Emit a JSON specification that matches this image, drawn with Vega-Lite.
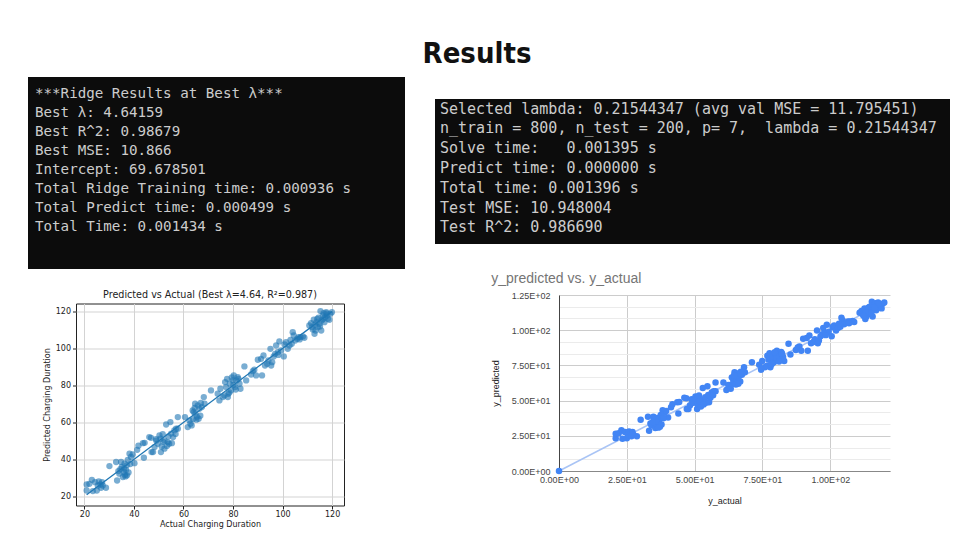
{
  "$schema": "https://vega.github.io/schema/vega-lite/v6.json",
  "background": "white",
  "padding": {"left": 28, "top": 40, "right": 7, "bottom": 4},
  "title": {"text": "Results", "font": "Liberation Sans Narrow, DejaVu Sans Condensed, sans-serif", "fontSize": 29, "fontWeight": "bold", "color": "#111111", "anchor": "middle", "dx": -12, "offset": 8, "frame": "bounds"},
  "config": {"view": {"stroke": null}},
  "datasets": {
    "box1": [
      {"line": 1, "text": "***Ridge Results at Best λ***"},
      {"line": 2, "text": "Best λ: 4.64159"},
      {"line": 3, "text": "Best R^2: 0.98679"},
      {"line": 4, "text": "Best MSE: 10.866"},
      {"line": 5, "text": "Intercept: 69.678501"},
      {"line": 6, "text": "Total Ridge Training time: 0.000936 s"},
      {"line": 7, "text": "Total Predict time: 0.000499 s"},
      {"line": 8, "text": "Total Time: 0.001434 s"}
    ],
    "box2": [
      {"line": 1, "text": "Selected lambda: 0.21544347 (avg val MSE = 11.795451)"},
      {"line": 2, "text": "n_train = 800, n_test = 200, p= 7, \u00a0lambda = 0.21544347"},
      {"line": 3, "text": "Solve time: \u00a0 0.001395 s"},
      {"line": 4, "text": "Predict time: 0.000000 s"},
      {"line": 5, "text": "Total time: 0.001396 s"},
      {"line": 6, "text": "Test MSE: 10.948004"},
      {"line": 7, "text": "Test R^2: 0.986690"}
    ],
    "pts": [
      {"actual": 20.9, "predicted": 23.2}, {"actual": 20.9, "predicted": 26.5}, {"actual": 22.0, "predicted": 26.8}, {"actual": 23.0, "predicted": 29.0},
      {"actual": 23.4, "predicted": 22.9}, {"actual": 24.3, "predicted": 27.7}, {"actual": 25.0, "predicted": 23.2}, {"actual": 25.4, "predicted": 25.9},
      {"actual": 25.8, "predicted": 28.1}, {"actual": 26.5, "predicted": 26.5}, {"actual": 26.7, "predicted": 24.7}, {"actual": 27.1, "predicted": 27.7},
      {"actual": 27.4, "predicted": 25.9}, {"actual": 28.7, "predicted": 24.7}, {"actual": 30.1, "predicted": 36.4},
      {"actual": 32.8, "predicted": 38.6}, {"actual": 33.2, "predicted": 28.6}, {"actual": 33.7, "predicted": 33.7}, {"actual": 34.1, "predicted": 32.3},
      {"actual": 34.8, "predicted": 38.6}, {"actual": 35.1, "predicted": 35.9}, {"actual": 35.5, "predicted": 30.5}, {"actual": 35.9, "predicted": 33.2},
      {"actual": 36.2, "predicted": 37.7}, {"actual": 36.4, "predicted": 31.7}, {"actual": 36.8, "predicted": 34.4}, {"actual": 37.1, "predicted": 36.8},
      {"actual": 37.2, "predicted": 31.4}, {"actual": 37.5, "predicted": 39.8}, {"actual": 38.2, "predicted": 43.1}, {"actual": 38.8, "predicted": 41.3},
      {"actual": 39.5, "predicted": 42.7}, {"actual": 40.2, "predicted": 38.0}, {"actual": 41.3, "predicted": 45.2}, {"actual": 41.8, "predicted": 47.4},
      {"actual": 43.6, "predicted": 48.8}, {"actual": 44.3, "predicted": 49.0}, {"actual": 44.0, "predicted": 40.9},
      {"actual": 36.0, "predicted": 35.0}, {"actual": 37.8, "predicted": 33.0}, {"actual": 36.6, "predicted": 30.8}, {"actual": 34.5, "predicted": 34.8},
      {"actual": 38.5, "predicted": 37.5},
      {"actual": 46.2, "predicted": 52.1}, {"actual": 46.9, "predicted": 51.7}, {"actual": 47.1, "predicted": 44.0}, {"actual": 47.7, "predicted": 44.0},
      {"actual": 48.3, "predicted": 46.7}, {"actual": 48.9, "predicted": 51.0}, {"actual": 49.6, "predicted": 48.5}, {"actual": 50.3, "predicted": 53.0},
      {"actual": 50.7, "predicted": 51.2}, {"actual": 50.9, "predicted": 44.0}, {"actual": 51.2, "predicted": 47.0}, {"actual": 51.6, "predicted": 53.6},
      {"actual": 52.3, "predicted": 50.3}, {"actual": 52.3, "predicted": 45.8}, {"actual": 53.0, "predicted": 58.9}, {"actual": 53.6, "predicted": 49.4},
      {"actual": 53.9, "predicted": 52.4}, {"actual": 54.2, "predicted": 48.5}, {"actual": 54.7, "predicted": 60.2}, {"actual": 55.3, "predicted": 48.8},
      {"actual": 55.8, "predicted": 52.1}, {"actual": 56.3, "predicted": 55.7}, {"actual": 57.0, "predicted": 56.6}, {"actual": 57.7, "predicted": 56.6},
      {"actual": 57.7, "predicted": 62.9}, {"actual": 49.0, "predicted": 50.2}, {"actual": 51.8, "predicted": 49.5}, {"actual": 53.3, "predicted": 47.3},
      {"actual": 55.0, "predicted": 54.0}, {"actual": 56.8, "predicted": 53.8},
      {"actual": 60.6, "predicted": 62.9}, {"actual": 61.7, "predicted": 57.5}, {"actual": 62.4, "predicted": 61.1}, {"actual": 62.8, "predicted": 59.3},
      {"actual": 63.3, "predicted": 58.4}, {"actual": 63.7, "predicted": 66.5}, {"actual": 64.1, "predicted": 65.6}, {"actual": 64.7, "predicted": 70.1},
      {"actual": 64.8, "predicted": 64.8}, {"actual": 65.4, "predicted": 63.1}, {"actual": 65.8, "predicted": 69.2}, {"actual": 66.4, "predicted": 67.4},
      {"actual": 66.8, "predicted": 63.6}, {"actual": 67.4, "predicted": 68.3}, {"actual": 68.2, "predicted": 73.7}, {"actual": 68.5, "predicted": 70.1},
      {"actual": 63.9, "predicted": 61.8}, {"actual": 65.2, "predicted": 61.5}, {"actual": 66.1, "predicted": 62.0}, {"actual": 64.5, "predicted": 67.8},
      {"actual": 67.0, "predicted": 70.5},
      {"actual": 71.1, "predicted": 77.3}, {"actual": 73.8, "predicted": 75.5}, {"actual": 74.5, "predicted": 71.9}, {"actual": 74.9, "predicted": 78.2},
      {"actual": 75.9, "predicted": 73.7}, {"actual": 76.5, "predicted": 74.6}, {"actual": 76.8, "predicted": 81.8}, {"actual": 77.2, "predicted": 79.1},
      {"actual": 77.6, "predicted": 83.6}, {"actual": 77.9, "predicted": 73.7}, {"actual": 78.1, "predicted": 75.5}, {"actual": 78.7, "predicted": 80.9},
      {"actual": 79.2, "predicted": 77.3}, {"actual": 79.9, "predicted": 82.7}, {"actual": 80.3, "predicted": 85.4}, {"actual": 80.8, "predicted": 79.1},
      {"actual": 81.4, "predicted": 82.7}, {"actual": 81.9, "predicted": 84.5}, {"actual": 82.6, "predicted": 80.9}, {"actual": 83.0, "predicted": 78.2},
      {"actual": 84.6, "predicted": 90.3}, {"actual": 85.3, "predicted": 82.7}, {"actual": 78.5, "predicted": 76.2}, {"actual": 80.1, "predicted": 80.3},
      {"actual": 81.1, "predicted": 77.8}, {"actual": 82.2, "predicted": 83.5}, {"actual": 79.5, "predicted": 84.3},
      {"actual": 87.3, "predicted": 85.9}, {"actual": 88.0, "predicted": 87.7}, {"actual": 88.6, "predicted": 88.5}, {"actual": 89.3, "predicted": 85.4},
      {"actual": 90.0, "predicted": 93.9}, {"actual": 91.3, "predicted": 94.4}, {"actual": 91.7, "predicted": 85.4}, {"actual": 92.3, "predicted": 96.2},
      {"actual": 92.9, "predicted": 90.8}, {"actual": 93.8, "predicted": 91.7}, {"actual": 94.3, "predicted": 93.5}, {"actual": 95.1, "predicted": 99.8},
      {"actual": 95.4, "predicted": 90.8}, {"actual": 95.8, "predicted": 92.6}, {"actual": 96.4, "predicted": 95.7}, {"actual": 97.0, "predicted": 97.1},
      {"actual": 97.4, "predicted": 101.6}, {"actual": 98.1, "predicted": 98.0}, {"actual": 98.7, "predicted": 103.8}, {"actual": 99.4, "predicted": 98.9},
      {"actual": 98.3, "predicted": 96.5},
      {"actual": 100.5, "predicted": 95.7}, {"actual": 100.8, "predicted": 102.2}, {"actual": 101.4, "predicted": 103.4}, {"actual": 102.1, "predicted": 99.8},
      {"actual": 102.8, "predicted": 101.6}, {"actual": 103.7, "predicted": 102.5}, {"actual": 104.1, "predicted": 108.8}, {"actual": 104.5, "predicted": 107.0},
      {"actual": 105.1, "predicted": 104.3}, {"actual": 105.9, "predicted": 105.2}, {"actual": 106.5, "predicted": 106.1}, {"actual": 107.2, "predicted": 106.1},
      {"actual": 108.2, "predicted": 106.5}, {"actual": 108.8, "predicted": 105.8}, {"actual": 103.2, "predicted": 104.6}, {"actual": 106.9, "predicted": 104.9},
      {"actual": 110.8, "predicted": 112.4}, {"actual": 111.5, "predicted": 113.7}, {"actual": 111.9, "predicted": 111.5}, {"actual": 112.6, "predicted": 115.5},
      {"actual": 112.9, "predicted": 107.9}, {"actual": 113.3, "predicted": 109.7}, {"actual": 113.7, "predicted": 114.2}, {"actual": 114.0, "predicted": 116.0},
      {"actual": 114.2, "predicted": 111.5}, {"actual": 114.5, "predicted": 116.6}, {"actual": 114.9, "predicted": 113.3}, {"actual": 115.3, "predicted": 120.2},
      {"actual": 115.6, "predicted": 109.7}, {"actual": 115.8, "predicted": 115.1}, {"actual": 116.2, "predicted": 117.8}, {"actual": 116.6, "predicted": 119.1},
      {"actual": 116.9, "predicted": 114.2}, {"actual": 117.2, "predicted": 116.9}, {"actual": 117.6, "predicted": 119.6}, {"actual": 118.0, "predicted": 117.8},
      {"actual": 118.3, "predicted": 116.0}, {"actual": 118.9, "predicted": 115.5}, {"actual": 119.3, "predicted": 118.7}, {"actual": 119.9, "predicted": 119.6},
      {"actual": 113.1, "predicted": 112.8}, {"actual": 115.1, "predicted": 111.9}, {"actual": 117.8, "predicted": 118.9}, {"actual": 116.4, "predicted": 115.9},
      {"actual": 112.2, "predicted": 110.3}
    ]
  },
  "spacing": 30,
  "hconcat": [
    {
      "spacing": 19.5,
      "vconcat": [
        {
          "width": 377,
          "height": 192,
          "view": {"fill": "#0c0c0c", "stroke": null},
          "data": {"name": "box1"},
          "mark": {"type": "text", "align": "left", "baseline": "middle", "font": "DejaVu Sans Mono", "fontSize": 14.2, "color": "#cccccc", "x": 7},
          "encoding": {
            "y": {"field": "line", "type": "quantitative", "scale": {"domain": [0.123, 10.2], "reverse": true, "nice": false, "zero": false}, "axis": null},
            "text": {"field": "text"}
          }
        },
        {
          "spacing": 0,
          "hconcat": [
            {"width": 14, "height": 1, "data": {"values": []}, "mark": {"type": "rect", "opacity": 0}},
            {
              "width": 268,
              "height": 202,
              "view": {"stroke": "#222222", "strokeWidth": 1},
              "title": {"text": "Predicted vs Actual (Best λ=4.64, R²=0.987)", "font": "DejaVu Sans", "fontSize": 9.6, "fontWeight": "normal", "color": "#222222", "offset": 4, "anchor": "middle"},
              "encoding": {
                "x": {
                  "field": "actual", "type": "quantitative",
                  "scale": {"domain": [16.6, 124.8], "nice": false, "zero": false},
                  "axis": {"values": [20, 40, 60, 80, 100, 120], "title": "Actual Charging Duration", "grid": true, "gridColor": "#d3d3d3", "domain": false, "labelFlush": false,
                    "tickColor": "#222222", "tickSize": 3.5, "labelFont": "DejaVu Sans", "labelFontSize": 8, "labelColor": "#222222", "labelPadding": 1.5,
                    "titleFont": "DejaVu Sans", "titleFontSize": 8, "titleFontWeight": "normal", "titleColor": "#222222", "titlePadding": 2}
                },
                "y": {
                  "field": "predicted", "type": "quantitative",
                  "scale": {"domain": [15.1, 124.3], "nice": false, "zero": false},
                  "axis": {"values": [20, 40, 60, 80, 100, 120], "title": "Predicted Charging Duration", "grid": true, "gridColor": "#d3d3d3", "domain": false, "labelFlush": false,
                    "tickColor": "#222222", "tickSize": 3.5, "labelFont": "DejaVu Sans", "labelFontSize": 8, "labelColor": "#222222", "labelPadding": 2,
                    "titleFont": "DejaVu Sans", "titleFontSize": 8, "titleFontWeight": "normal", "titleColor": "#222222", "titlePadding": 4}
                }
              },
              "layer": [
                {"data": {"name": "pts"}, "mark": {"type": "circle", "size": 40, "color": "#1f77b4", "opacity": 0.6}},
                {"data": {"values": [{"actual": 20.9, "predicted": 20.9}, {"actual": 119.9, "predicted": 119.9}]}, "mark": {"type": "line", "color": "#1f77b4", "strokeWidth": 1.3}}
              ]
            }
          ]
        }
      ]
    },
    {
      "spacing": 0,
      "vconcat": [
        {"width": 1, "height": 22, "data": {"values": []}, "mark": {"type": "rect", "opacity": 0}},
        {
          "spacing": 28,
          "vconcat": [
            {
              "width": 515,
              "height": 145,
              "view": {"fill": "#0c0c0c", "stroke": null},
              "data": {"name": "box2"},
              "mark": {"type": "text", "align": "left", "baseline": "middle", "font": "DejaVu Sans Mono", "fontSize": 15, "color": "#cccccc", "x": 5},
              "encoding": {
                "y": {"field": "line", "type": "quantitative", "scale": {"domain": [0.52, 7.84], "reverse": true, "nice": false, "zero": false}, "axis": null},
                "text": {"field": "text"}
              }
            },
            {
              "spacing": 0,
              "hconcat": [
                {"width": 56, "height": 1, "data": {"values": []}, "mark": {"type": "rect", "opacity": 0}},
                {
                  "width": 331,
                  "height": 176,
                  "title": {"text": "y_predicted vs. y_actual", "font": "Liberation Sans", "fontSize": 14, "fontWeight": "normal", "color": "#757575", "anchor": "start", "frame": "bounds", "offset": 5},
                  "encoding": {
                    "x": {
                      "field": "actual", "type": "quantitative",
                      "scale": {"domain": [0, 122], "nice": false, "zero": false},
                      "axis": {"values": [0, 25, 50, 75, 100], "title": "y_actual", "grid": true, "gridColor": "#cccccc", "domain": true, "domainColor": "#888888",
                        "ticks": false, "labelFlush": false, "labelExpr": "replace(format(datum.value, '.2e'), regexp('e[+]([0-9])$'), 'E+0$1')",
                        "labelFont": "Liberation Sans", "labelFontSize": 9, "labelColor": "#444444", "labelPadding": 4,
                        "titleFont": "Liberation Sans", "titleFontSize": 9, "titleFontWeight": "normal", "titleColor": "#222222", "titlePadding": 12}
                    },
                    "y": {
                      "field": "predicted", "type": "quantitative",
                      "scale": {"domain": [0, 125], "nice": false, "zero": false},
                      "axis": {"values": [0, 8.333, 16.667, 25, 33.333, 41.667, 50, 58.333, 66.667, 75, 83.333, 91.667, 100, 108.333, 116.667, 125],
                        "title": "y_predicted", "grid": true,
                        "gridColor": {"condition": {"test": "datum.value % 25 === 0", "value": "#cccccc"}, "value": "#ebebeb"},
                        "domain": true, "domainColor": "#444444", "ticks": false, "labelOverlap": false, "labelFlush": false,
                        "labelExpr": "datum.value % 25 === 0 ? replace(format(datum.value, '.2e'), regexp('e[+]([0-9])$'), 'E+0$1') : ''",
                        "labelFont": "Liberation Sans", "labelFontSize": 9, "labelColor": "#444444", "labelPadding": 9,
                        "titleFont": "Liberation Sans", "titleFontSize": 9, "titleFontWeight": "normal", "titleColor": "#222222", "titlePadding": 11}
                    }
                  },
                  "layer": [
                    {"data": {"values": [{"actual": 0, "predicted": 0}, {"actual": 120, "predicted": 119.5}]}, "mark": {"type": "line", "color": "#a9c4f5", "strokeWidth": 1.5}},
                    {"data": {"name": "pts"}, "mark": {"type": "circle", "size": 42, "color": "#4285f4", "opacity": 1}},
                    {"data": {"values": [{"actual": 0, "predicted": 0}]}, "mark": {"type": "circle", "size": 42, "color": "#4285f4", "opacity": 1, "clip": false}}
                  ]
                }
              ]
            }
          ]
        }
      ]
    }
  ]
}
